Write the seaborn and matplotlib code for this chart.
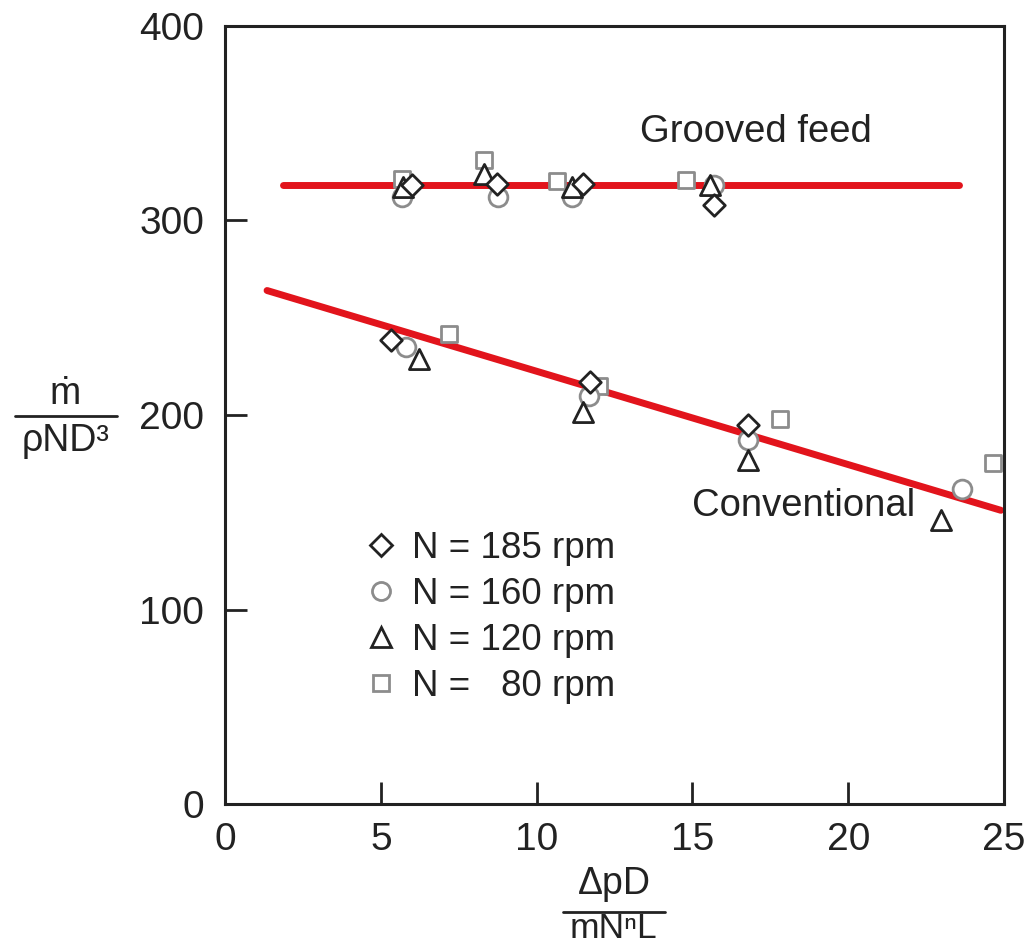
import matplotlib
matplotlib.use("Agg")
import matplotlib.pyplot as plt
import seaborn as sns
import pandas as pd
from matplotlib.lines import Line2D

sns.set_theme(style="white")
plt.rcParams['font.family'] = ['Liberation Sans', 'DejaVu Sans']

# ---- data ----
series_labels = ["N = 185 rpm", "N = 160 rpm", "N = 120 rpm", "N =   80 rpm"]

x185 = [6.0, 8.74, 11.5, 15.68, 5.33, 11.7, 16.8]
y185 = [318, 319, 319, 308, 238.5, 217, 195]

x160 = [5.69, 8.77, 11.15, 15.7, 5.8, 11.67, 16.77, 23.65]
y160 = [312, 312, 312, 318, 235, 210, 187, 162]

x120 = [5.72, 8.3, 11.15, 15.58, 6.23, 11.5, 16.77, 22.98]
y120 = [317, 324, 317, 318, 229, 201.5, 177, 146]

x80 = [5.69, 8.3, 10.67, 14.78, 7.2, 12.0, 17.8, 24.65]
y80 = [321.5, 331, 320.5, 321, 241.5, 215, 198, 175.5]

grooved_x = [1.85, 23.55]
grooved_y = [318, 318]
conv_x = [1.35, 24.9]
conv_y = [264, 151]

xticks = [0, 5, 10, 15, 20, 25]
yticks = [0, 100, 200, 300, 400]

RED = "#e2141c"
DARK = "#222222"
GRAY = "#8c8c8c"

fig = plt.figure(figsize=(10.25, 9.47), dpi=100)
ax = fig.add_axes([225/1025, 1-804/947, (1004-225)/1025, (804-26)/947])

sns.lineplot(x=grooved_x, y=grooved_y, ax=ax, color=RED, linewidth=5, zorder=2)
sns.lineplot(x=conv_x, y=conv_y, ax=ax, color=RED, linewidth=5, zorder=2)

specs = [
    (x80, y80, "s", GRAY, 12.0**2, 3),
    (x160, y160, "o", GRAY, 13.5**2, 4),
    (x120, y120, "^", DARK, 14.5**2, 5),
    (x185, y185, "D", DARK, 11.0**2, 6),
]
for xs, ys, m, c, s, z in specs:
    df = pd.DataFrame({"x": xs, "y": ys})
    sns.scatterplot(data=df, x="x", y="y", ax=ax, marker=m, s=s,
                    facecolor="white", edgecolor=c, linewidth=2.0, zorder=z)

ax.set_xlim(0, 25)
ax.set_ylim(0, 400)
ax.set_xticks(xticks)
ax.set_yticks(yticks)
ax.set_xlabel("")
ax.set_ylabel("")
ax.tick_params(direction="in", length=16, width=2, colors=DARK,
               labelsize=28, labelcolor="#222222", top=False, right=False,
               bottom=True, left=True)
ax.tick_params(axis="x", pad=13)
ax.tick_params(axis="y", pad=15)
for sp in ax.spines.values():
    sp.set_linewidth(2.2)
    sp.set_color(DARK)
    sp.set_visible(True)

# annotations
ax.text(640/1025, 1-132/947, "Grooved feed", transform=fig.transFigure,
        fontsize=27.5, color=DARK, ha="left", va="center")
ax.text(692/1025, 1-506/947, "Conventional", transform=fig.transFigure,
        fontsize=27.5, color=DARK, ha="left", va="center")

# legend
handles = [
    Line2D([], [], linestyle="none", marker="D", markersize=11, markerfacecolor="white",
           markeredgecolor=DARK, markeredgewidth=2),
    Line2D([], [], linestyle="none", marker="o", markersize=13, markerfacecolor="white",
           markeredgecolor=GRAY, markeredgewidth=2),
    Line2D([], [], linestyle="none", marker="^", markersize=14, markerfacecolor="white",
           markeredgecolor=DARK, markeredgewidth=2),
    Line2D([], [], linestyle="none", marker="s", markersize=12, markerfacecolor="white",
           markeredgecolor=GRAY, markeredgewidth=2),
]
leg = ax.legend(handles, series_labels, loc="upper left",
                bbox_to_anchor=(364/1025, 1-531/947), bbox_transform=fig.transFigure,
                frameon=False, fontsize=26.5, labelspacing=0.3, handletextpad=0.4,
                handlelength=0.9, borderpad=0, borderaxespad=0)
for t in leg.get_texts():
    t.set_color(DARK)

# y label as a fraction
fig.text(65/1025, 1-394/947, "ṁ", fontsize=27, color=DARK, ha="center", va="center")
fig.add_artist(Line2D([15/1025, 117/1025], [1-416/947, 1-416/947], color=DARK, linewidth=2))
fig.text(66/1025, 1-441/947, "ρND³", fontsize=27, color=DARK, ha="center", va="center")

# x label as a fraction
fig.text(614/1025, 1-884/947, "ΔpD", fontsize=27, color=DARK, ha="center", va="center")
fig.add_artist(Line2D([563/1025, 665/1025], [1-912/947, 1-912/947], color=DARK, linewidth=2))
fig.text(613/1025, 1-938/947, "mNⁿL", fontsize=25.5, color=DARK, ha="center", va="baseline")

fig.savefig("out.png", dpi=100)
